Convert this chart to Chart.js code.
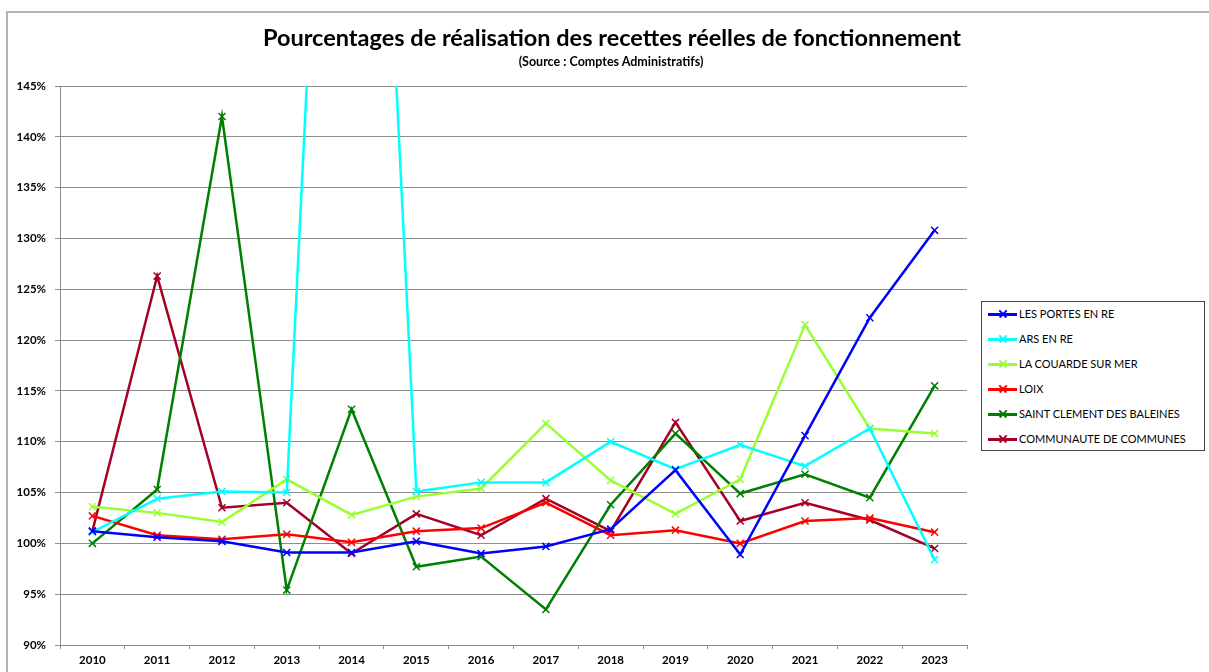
<!DOCTYPE html>
<html>
<head>
<meta charset="utf-8">
<script src="https://cdn.jsdelivr.net/npm/chart.js@4"></script>
<style>
  body { margin: 0; background: #fff; font-family: Lato, "Open Sans", sans-serif; }
  #wrap { position: relative; width: 1209px; height: 672px; overflow: hidden; }
  #frame { position: absolute; left: 6px; top: 11px; right: -5px; bottom: -5px; border-top: 2px solid #b4b4b4; border-left: 2px solid #b4b4b4; }
  #chart { position: absolute; left: 0; top: 0; }
  #title { position: absolute; left: 0; width: 1224px; top: 23px; text-align: center; font-weight: bold; font-size: 23.5px; color: #000; white-space: nowrap; }
  #subtitle { position: absolute; left: 0; width: 1222px; top: 54px; text-align: center; font-weight: bold; font-size: 12.5px; color: #000; white-space: nowrap; }
  #legend { position: absolute; left: 981px; top: 301px; width: 222px; height: 148px; border: 1px solid #444; background: #fff; }
  .row { position: absolute; left: 0; height: 16px; font-size: 11px; color: #000; }
  .sample { position: absolute; left: 6px; top: 7px; width: 29px; height: 2.5px; }
  .mark { position: absolute; left: 16px; top: 3px; width: 10px; height: 10px; }
  .mark::before, .mark::after { content: ''; position: absolute; left: 0; top: 4px; width: 10px; height: 1.5px; background-color: var(--c); }
  .mark::before { transform: rotate(45deg); }
  .mark::after { transform: rotate(-45deg); }
  .lbl { position: absolute; left: 37px; top: 0; white-space: nowrap; line-height: 16px; }
</style>
</head>
<body>
<div id="wrap">
  <div id="frame"></div>
  <canvas id="chart" width="1209" height="672"></canvas>
  <div id="title">Pourcentages de réalisation des recettes réelles de fonctionnement</div>
  <div id="subtitle">(Source : Comptes Administratifs)</div>
  <div id="legend"></div>
</div>
<script>
// categories and series (values in %)
const years = ['2010', '2011', '2012', '2013', '2014', '2015', '2016', '2017', '2018', '2019', '2020', '2021', '2022', '2023'];

const lesPortes = [101.2, 100.6, 100.2, 99.1, 99.1, 100.2, 99.0, 99.7, 101.4, 107.2, 98.9, 110.6, 122.2, 130.8];
const arsEnRe = [101.1, 104.4, 105.1, 105.0, 235.0, 105.1, 106.0, 106.0, 110.0, 107.3, 109.7, 107.6, 111.3, 98.4];
const laCouarde = [103.6, 103.0, 102.1, 106.3, 102.8, 104.6, 105.4, 111.8, 106.2, 102.9, 106.3, 121.5, 111.3, 110.8];
const loix = [102.7, 100.8, 100.4, 100.9, 100.1, 101.2, 101.5, 104.0, 100.8, 101.3, 100.0, 102.2, 102.5, 101.1];
const saintClement = [100.0, 105.3, 142.0, 95.4, 113.2, 97.7, 98.7, 93.5, 103.8, 110.8, 104.9, 106.8, 104.5, 115.5];
const communaute = [101.2, 126.3, 103.5, 104.0, 99.0, 102.9, 100.8, 104.4, 101.2, 111.9, 102.2, 104.0, 102.3, 99.5];

const yMin = 90;
const yMax = 145;
const yStep = 5;

const series = [
  { label: 'LES PORTES EN RE', data: lesPortes, color: '#0000ff' },
  { label: 'ARS EN RE', data: arsEnRe, color: '#00ffff' },
  { label: 'LA COUARDE SUR MER', data: laCouarde, color: '#99ff33' },
  { label: 'LOIX', data: loix, color: '#ff0000' },
  { label: 'SAINT CLEMENT DES BALEINES', data: saintClement, color: '#008000' },
  { label: 'COMMUNAUTE DE COMMUNES', data: communaute, color: '#a50026' }
];

// html legend
const legendEl = document.getElementById('legend');
series.forEach((s, i) => {
  const row = document.createElement('div');
  row.className = 'row';
  row.style.top = (4 + i * 25) + 'px';
  row.innerHTML = `<div class="sample" style="background:${s.color}"></div>
    <div class="mark" style="--c:${s.color}"></div>
    <span class="lbl">${s.label}</span>`;
  legendEl.appendChild(row);
});

const tickFont = { family: 'Lato, sans-serif', size: 11.5, weight: 'bold' };
const gridColor = '#8c8c8c';

new Chart(document.getElementById('chart'), {
  type: 'line',
  data: {
    labels: years,
    datasets: series.map(s => ({
      label: s.label,
      data: s.data,
      borderColor: s.color,
      backgroundColor: s.color,
      borderWidth: 2.5,
      pointStyle: 'crossRot',
      pointRadius: 5,
      pointBorderWidth: 1.5,
      tension: 0
    }))
  },
  options: {
    responsive: false,
    animation: false,
    layout: { padding: { top: 86, right: 242, bottom: 0, left: 0 } },
    plugins: {
      legend: { display: false },
      title: { display: false },
      tooltip: { enabled: false }
    },
    scales: {
      x: {
        offset: true,
        grid: { display: true, drawOnChartArea: false, offset: true, color: gridColor, tickLength: 4 },
        border: { color: gridColor, width: 1 },
        ticks: { color: '#000', font: tickFont, padding: 4, maxRotation: 0 },
        afterFit: scale => { scale.height = 27; }
      },
      y: {
        min: yMin,
        max: yMax,
        grid: { color: gridColor, lineWidth: 1, tickLength: 5 },
        border: { color: gridColor, width: 1 },
        ticks: {
          stepSize: yStep,
          color: '#000',
          font: tickFont,
          padding: 9,
          callback: v => v + '%'
        },
        afterFit: scale => { scale.width = 60; }
      }
    }
  }
});
</script>
</body>
</html>
